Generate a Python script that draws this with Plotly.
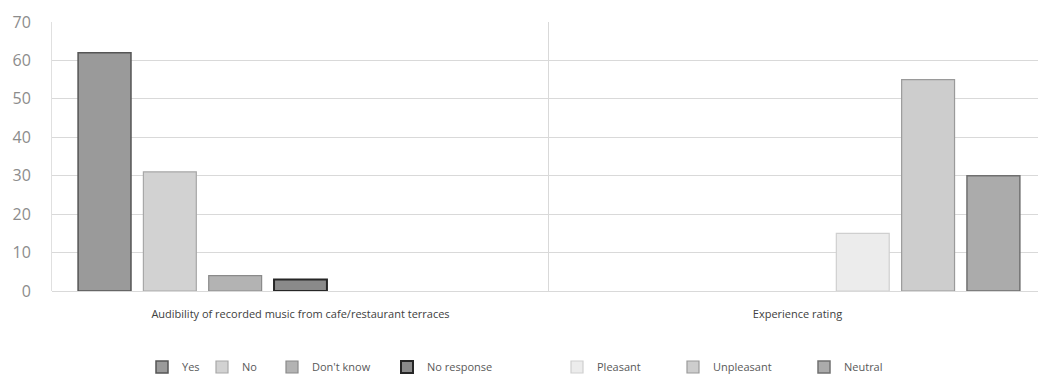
import plotly.graph_objects as go

# Survey groups on the category axis
groups = ["Audibility of recorded music from cafe/restaurant terraces", "Experience rating"]

# Response series (percent); each series belongs to one group only
series_names = ["Yes", "No", "Don't know", "No response", "Pleasant", "Unpleasant", "Neutral"]
audibility = [62, 31, 4, 3, None, None, None]
experience = [None, None, None, None, 15, 55, 30]

fill_colors = ["#9a9a9a", "#d2d2d2", "#b3b3b3", "#8a8a8a", "#ececec", "#cdcdcd", "#ababab"]
line_colors = ["#555555", "#a8a8a8", "#8a8a8a", "#262626", "#cfcfcf", "#9a9a9a", "#707070"]
line_widths = [1.5, 1.2, 1.2, 2, 1.2, 1.2, 1.5]

# left edge (px) of each legend entry
legend_left = [142, 202, 272, 387, 557, 673, 804]

W, H = 1038, 374
fig = go.Figure()
for i, name in enumerate(series_names):
    lg = "legend" if i == 0 else f"legend{i + 1}"
    fig.add_trace(go.Bar(
        name=name,
        x=groups,
        y=[audibility[i], experience[i]],
        marker=dict(color=fill_colors[i], line=dict(color=line_colors[i], width=line_widths[i])),
        legend=lg,
    ))

layout_legends = {}
for i in range(len(series_names)):
    key = "legend" if i == 0 else f"legend{i + 1}"
    layout_legends[key] = dict(
        xref="container", yref="container",
        x=legend_left[i] / W, y=(H - 367) / H,
        xanchor="left", yanchor="middle",
        orientation="h", bgcolor="rgba(0,0,0,0)",
        font=dict(family="Open Sans, Liberation Sans, sans-serif", size=11, color="#595959"),
        itemwidth=30,
    )

fig.update_layout(
    width=W, height=H,
    barmode="group", bargap=0.08, bargroupgap=0.19,
    plot_bgcolor="white", paper_bgcolor="white",
    margin=dict(l=52, r=0, t=22, b=83),
    showlegend=True,
    **layout_legends,
)
fig.update_xaxes(
    type="category", range=[-0.5, 1.484],
    tickson="boundaries", showgrid=True, gridcolor="#d9d9d9", gridwidth=1,
    ticks="", showline=False, zeroline=False,
    tickfont=dict(family="Open Sans, Liberation Sans, sans-serif", size=11, color="#404040"),
    ticklabelstandoff=15,
)
fig.update_yaxes(
    range=[0, 70], dtick=10, showgrid=True, gridcolor="#d9d9d9", gridwidth=1,
    zeroline=True, zerolinecolor="#d9d9d9", zerolinewidth=1,
    showline=True, linecolor="#e0e0e0", linewidth=1, ticks="",
    tickfont=dict(family="Open Sans, Liberation Sans, sans-serif", size=16, color="#8c8c8c"),
    ticklabelstandoff=17,
)

fig.write_html("out.html")
